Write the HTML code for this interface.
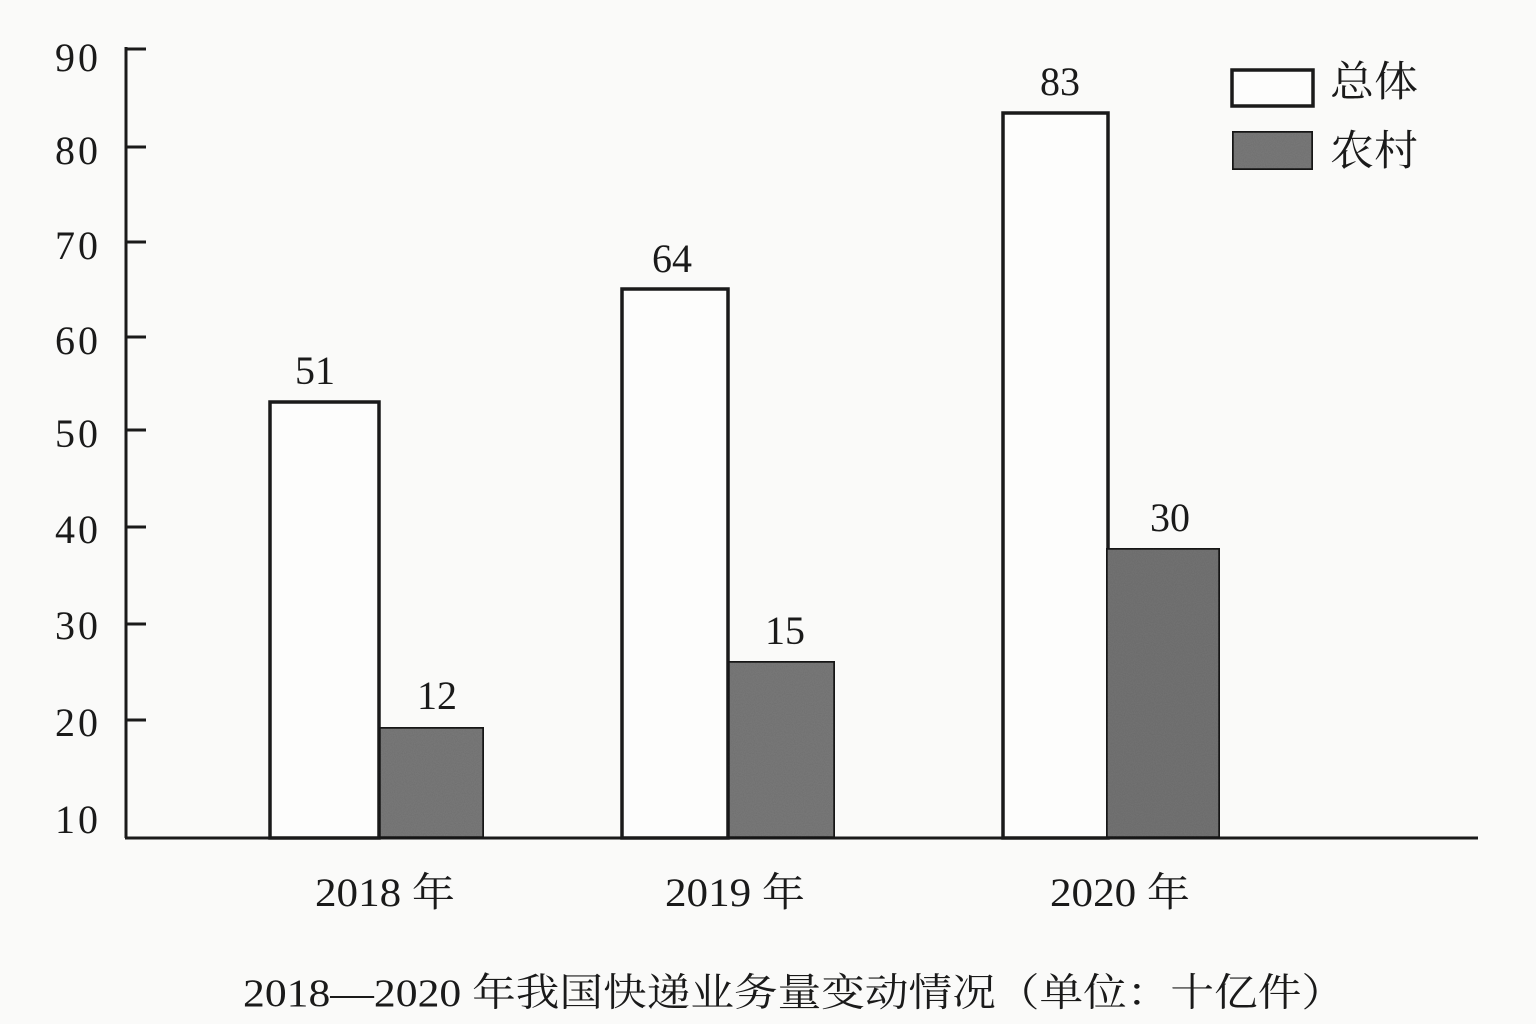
<!DOCTYPE html>
<html><head><meta charset="utf-8"><style>
html,body{margin:0;padding:0;background:#fafaf9;}
svg{display:block}
text{font-family:"Liberation Serif","Noto Serif CJK SC",serif;fill:#1a1a1a;}
</style></head><body>
<svg width="1536" height="1024" viewBox="0 0 1536 1024" xmlns="http://www.w3.org/2000/svg">
<defs>
<filter id="n" x="0" y="0" width="100%" height="100%">
<feTurbulence type="fractalNoise" baseFrequency="0.9" numOctaves="2" seed="3"/>
<feColorMatrix type="matrix" values="0 0 0 0 0.45  0 0 0 0 0.45  0 0 0 0 0.45  0 0 0 0.35 0"/>
<feComposite in2="SourceGraphic" operator="in"/>
<feBlend in2="SourceGraphic" mode="multiply"/>
</filter>
</defs>
<rect width="1536" height="1024" fill="#fafaf9"/>
<g stroke="#1a1a1a" stroke-width="3" fill="none">
<line x1="126" y1="47" x2="126" y2="838"/>
<line x1="125" y1="838" x2="1478" y2="838"/>
<line x1="126" y1="49" x2="146" y2="49"/>
<line x1="126" y1="147" x2="146" y2="147"/>
<line x1="126" y1="242" x2="146" y2="242"/>
<line x1="126" y1="337" x2="146" y2="337"/>
<line x1="126" y1="430" x2="146" y2="430"/>
<line x1="126" y1="527" x2="146" y2="527"/>
<line x1="126" y1="624" x2="146" y2="624"/>
<line x1="126" y1="720" x2="146" y2="720"/>
</g>
<g font-size="40" text-anchor="end">
<text x="98" y="71" textLength="43">90</text>
<text x="98" y="164" textLength="43">80</text>
<text x="98" y="259" textLength="43">70</text>
<text x="98" y="354" textLength="43">60</text>
<text x="98" y="447" textLength="43">50</text>
<text x="98" y="543" textLength="43">40</text>
<text x="98" y="639" textLength="43">30</text>
<text x="98" y="736" textLength="43">20</text>
<text x="98" y="833" textLength="43">10</text>
</g>
<g stroke="#1a1a1a" stroke-width="3.5">
<rect x="270" y="402" width="109" height="436" fill="#fdfdfc"/>
<rect x="379" y="727" width="105" height="111" fill="#7a7a7a" filter="url(#n)"/>
<rect x="622" y="289" width="106" height="549" fill="#fdfdfc"/>
<rect x="728" y="661" width="107" height="177" fill="#7a7a7a" filter="url(#n)"/>
<rect x="1003" y="113" width="105" height="725" fill="#fdfdfc"/>
<rect x="1106" y="548" width="114" height="290" fill="#747474" filter="url(#n)"/>
<rect x="1232" y="70" width="81" height="36" fill="#fdfdfc"/>
<rect x="1232" y="131" width="81" height="39" fill="#7a7a7a" filter="url(#n)"/>
</g>
<g font-size="40" text-anchor="middle">
<text x="315" y="384">51</text>
<text x="437" y="709">12</text>
<text x="672" y="272">64</text>
<text x="785" y="644">15</text>
<text x="1060" y="95">83</text>
<text x="1170" y="531">30</text>
</g>
<g font-size="40">
<text x="315" y="906" textLength="140" lengthAdjust="spacingAndGlyphs">2018 年</text>
<text x="665" y="906" textLength="140" lengthAdjust="spacingAndGlyphs">2019 年</text>
<text x="1050" y="906" textLength="140" lengthAdjust="spacingAndGlyphs">2020 年</text>
</g>
<text x="1330" y="96" font-size="42" textLength="88" lengthAdjust="spacingAndGlyphs">总体</text>
<text x="1330" y="165" font-size="42" textLength="88" lengthAdjust="spacingAndGlyphs">农村</text>
<text x="243" y="1006" font-size="39" fill="#333" textLength="1102" lengthAdjust="spacingAndGlyphs">2018—2020 年我国快递业务量变动情况（单位：十亿件）</text>
</svg>
</body></html>
